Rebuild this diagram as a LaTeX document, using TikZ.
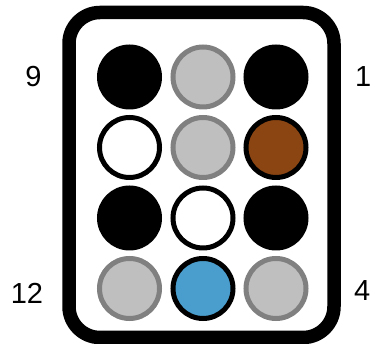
\documentclass[tikz,border=0pt]{standalone}
\usepackage{fontspec}
\setmainfont{Liberation Sans}
\usepackage{xcolor}
\usepackage{tikz}
\definecolor{holegray}{HTML}{BFBFBF}
\definecolor{holeedge}{HTML}{808080}
\definecolor{holebrown}{HTML}{8B4513}
\definecolor{holeblue}{HTML}{4A9ECE}

\begin{document}
\begin{tikzpicture}[x=1pt,y=-1pt,
    hole/.style={circle, minimum size=60pt, inner sep=0pt, line width=5pt},
    hblack/.style={hole, draw=black, fill=black},
    hgray/.style={hole, draw=holeedge, fill=holegray},
    hwhite/.style={hole, draw=black, fill=white},
    hbrown/.style={hole, draw=black, fill=holebrown},
    hblue/.style={hole, draw=black, fill=holeblue},
    lbl/.style={inner sep=0pt, font=\fontsize{29}{32}\selectfont}]
  \useasboundingbox (0,0) rectangle (370,344);
  % frame
  \draw[line width=13.5pt, rounded corners=31pt] (69,12.5) rectangle (334,337.5);
  % holes, row by row
  \node[hblack] (a1) at (129.5,77) {};
  \node[hgray]  (a2) at (203,77) {};
  \node[hblack] (a3) at (276,77) {};
  \node[hwhite] (b1) at (129.5,147.5) {};
  \node[hgray]  (b2) at (203,147.5) {};
  \node[hbrown] (b3) at (276,147.5) {};
  \node[hblack] (c1) at (129.5,218) {};
  \node[hwhite] (c2) at (203,218) {};
  \node[hblack] (c3) at (276,218) {};
  \node[hgray]  (d1) at (129.5,288.5) {};
  \node[hblue]  (d2) at (203,288.5) {};
  \node[hgray]  (d3) at (276,288.5) {};
  % numbers
  \node[lbl] (n9)  at (33.5,77) {9};
  \node[lbl, anchor=west] (n1)  at (355,77) {1};
  \node[lbl] (n12) at (27,293.5) {12};
  \node[lbl, anchor=west] (n4)  at (354,291) {4};
\end{tikzpicture}
\end{document}
